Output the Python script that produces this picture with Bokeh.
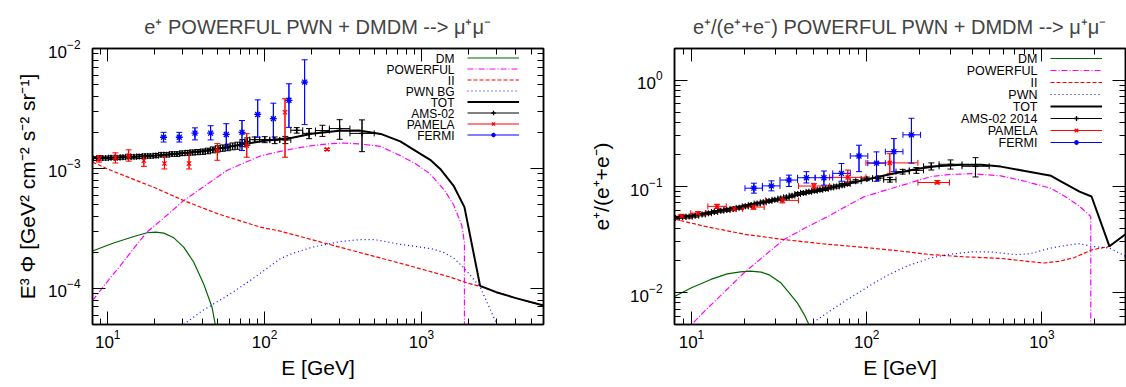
from bokeh.plotting import figure
from bokeh.layouts import row
from bokeh.models import (LogAxis, LogTicker, CustomJSTickFormatter, Legend, LegendItem,
                          Label, Whisker, TeeHead, ColumnDataSource)
from bokeh.core.properties import value
from bokeh.embed import file_html
from bokeh.resources import INLINE

FONT = "Liberation Sans"

# ---------------- left panel : e+ flux (E^3 Phi) ----------------
E_dm_l = [8, 10.9, 14.7, 17.8, 20.2, 22.8, 26.4, 30.5, 35.3, 40.9, 46.2, 48.5, 50]
dm_l = [2.05e-4, 2.39e-4, 2.71e-4, 2.91e-4, 2.95e-4, 2.89e-4, 2.64e-4, 2.21e-4, 1.66e-4,
        1.09e-4, 7.0e-5, 5.0e-5, 4.0e-5]

E_pw_l = [8, 10, 12, 15, 17.8, 20, 25, 30.5, 40, 57.5, 75, 94, 120, 153, 200, 250, 319, 400,
          547, 733, 912, 1137, 1400, 1600, 1810, 1880, 1882]
pw_l = [7.9e-5, 1.15e-4, 1.54e-4, 2.24e-4, 2.95e-4, 3.35e-4, 4.3e-4, 5.4e-4, 6.9e-4, 9.6e-4,
        1.12e-3, 1.27e-3, 1.37e-3, 1.46e-3, 1.55e-3, 1.6e-3, 1.63e-3, 1.6e-3, 1.53e-3, 1.28e-3,
        1.1e-3, 9.0e-4, 6.6e-4, 5.0e-4, 3.35e-4, 2.4e-4, 1e-6]

E_ii_l = [8, 10, 15, 20, 30.5, 50, 94, 126, 200, 300, 500, 733, 1000, 1500, 2000, 2366, 3000,
          4000, 6000]
ii_l = [1.13e-3, 9.9e-4, 8.0e-4, 6.9e-4, 5.4e-4, 4.2e-4, 3.24e-4, 3.0e-4, 2.55e-4, 2.21e-4,
        1.85e-4, 1.62e-4, 1.45e-4, 1.25e-4, 1.1e-4, 1.04e-4, 9.3e-5, 8.3e-5, 7.2e-5]

E_pwn_l = [30.5, 40, 60.5, 80, 100, 126, 150, 200, 300, 400, 500, 600, 733, 982, 1200, 1380,
           1600, 1850, 2366, 3030, 3200]
pwn_l = [5.0e-5, 6.5e-5, 9.0e-5, 1.15e-4, 1.42e-4, 1.77e-4, 1.95e-4, 2.2e-4, 2.45e-4, 2.55e-4,
         2.55e-4, 2.45e-4, 2.33e-4, 2.21e-4, 2.12e-4, 2.0e-4, 1.8e-4, 1.5e-4, 1.03e-4, 5.0e-5,
         4.0e-5]

E_tot_l = [8, 10, 15, 20, 30, 40, 50, 70, 100, 150, 200, 300, 400, 550, 733, 912, 1137, 1318,
           1600, 1880, 2366, 3000, 4000, 6000]
tot_l = [1.22e-3, 1.23e-3, 1.25e-3, 1.28e-3, 1.34e-3, 1.4e-3, 1.46e-3, 1.58e-3, 1.7e-3, 1.8e-3,
         1.95e-3, 2.06e-3, 2.07e-3, 1.94e-3, 1.68e-3, 1.41e-3, 1.18e-3, 9.9e-4, 7.2e-4, 4.76e-4,
         1.05e-4, 9.3e-5, 8.3e-5, 7.2e-5]

# AMS-02 bins (shared by both panels)
ams_E = [8.09, 8.9, 9.7, 10.5, 11.5, 12.5, 13.5, 14.7, 15.9, 17.3, 18.7, 20.3, 21.9, 23.7, 25.7,
         27.7, 29.9, 32.3, 34.8, 37.5, 40.4, 43.5, 46.8, 50.3, 54.1, 58.2, 62.5, 67.2, 72.3, 77.6,
         86.5, 100.2, 116, 135.6, 160.4, 192.2, 233.8, 301, 418]
ams_E_lo = [7.7, 8.5, 9.3, 10.1, 11.0, 12.0, 13.0, 14.1, 15.3, 16.6, 18.0, 19.5, 21.1, 22.8, 24.7,
            26.7, 28.8, 31.1, 33.5, 36.1, 38.9, 41.9, 45.1, 48.5, 52.2, 56.1, 60.3, 64.8, 69.7,
            74.9, 80.5, 93.0, 108, 125, 147, 175, 211, 259, 350]
ams_E_hi = [8.5, 9.3, 10.1, 11.0, 12.0, 13.0, 14.1, 15.3, 16.6, 18.0, 19.5, 21.1, 22.8, 24.7,
            26.7, 28.8, 31.1, 33.5, 36.1, 38.9, 41.9, 45.1, 48.5, 52.2, 56.1, 60.3, 64.8, 69.7,
            74.9, 80.5, 93.0, 108, 125, 147, 175, 211, 259, 350, 500]
ams_flux = [1.21e-3, 1.22e-3, 1.22e-3, 1.23e-3, 1.23e-3, 1.24e-3, 1.25e-3, 1.25e-3, 1.26e-3,
            1.27e-3, 1.27e-3, 1.28e-3, 1.3e-3, 1.3e-3, 1.32e-3, 1.32e-3, 1.34e-3, 1.35e-3,
            1.36e-3, 1.37e-3, 1.38e-3, 1.4e-3, 1.43e-3, 1.46e-3, 1.48e-3, 1.5e-3, 1.53e-3,
            1.55e-3, 1.63e-3, 1.68e-3, 1.74e-3, 1.74e-3, 1.72e-3, 1.73e-3, 2.08e-3, 1.96e-3,
            2.07e-3, 2.15e-3, 1.96e-3]
ams_flux_err = [4.5e-5, 4.5e-5, 4.5e-5, 4.5e-5, 4.5e-5, 4.6e-5, 4.6e-5, 4.7e-5, 4.8e-5, 4.9e-5,
                5.0e-5, 5.1e-5, 5.3e-5, 5.4e-5, 5.6e-5, 5.8e-5, 6.0e-5, 6.2e-5, 6.5e-5, 6.8e-5,
                7.0e-5, 7.5e-5, 8.0e-5, 8.5e-5, 9.0e-5, 9.5e-5, 1.0e-4, 1.05e-4, 1.1e-4, 1.2e-4,
                9.0e-5, 1.0e-4, 1.1e-4, 1.2e-4, 1.1e-4, 1.9e-4, 2.2e-4, 4.0e-4, 5.8e-4]

pam_E_l = [8.8, 11.2, 13.6, 17.0, 23.0, 33.0, 50.0, 77.0, 135.0, 250.0]
pam_flux = [1.2e-3, 1.23e-3, 1.28e-3, 1.16e-3, 1.1e-3, 1.1e-3, 1.4e-3, 1.55e-3, 2.94e-3, 1.44e-3]
pam_flux_lo = [1.13e-3, 1.11e-3, 1.15e-3, 1.04e-3, 9.9e-4, 9.9e-4, 1.17e-3, 1.24e-3, 1.24e-3,
               1.41e-3]
pam_flux_hi = [1.28e-3, 1.35e-3, 1.43e-3, 1.28e-3, 1.26e-3, 1.33e-3, 1.61e-3, 1.95e-3, 3.81e-3,
               1.47e-3]

fermi_E = [22.7, 28.6, 36.0, 45.3, 57.0, 71.8, 90.4, 113.8, 143.0, 180.0]
fermi_E_lo = [20.2, 25.4, 32.0, 40.3, 50.8, 64.0, 80.6, 101.5, 127.8, 161.0]
fermi_E_hi = [25.4, 32.0, 40.3, 50.8, 64.0, 80.6, 101.5, 127.8, 161.0, 203.0]
fermi_flux = [1.82e-3, 1.82e-3, 1.97e-3, 1.97e-3, 1.92e-3, 2.0e-3, 2.82e-3, 2.6e-3, 3.7e-3,
              5.25e-3]
fermi_flux_lo = [1.66e-3, 1.66e-3, 1.73e-3, 1.73e-3, 1.46e-3, 1.41e-3, 1.82e-3, 1.73e-3, 2.2e-3,
                 2.32e-3]
fermi_flux_hi = [2.0e-3, 2.0e-3, 2.18e-3, 2.27e-3, 2.36e-3, 2.51e-3, 3.73e-3, 3.5e-3, 5.08e-3,
                 8.05e-3]

# ---------------- right panel : positron fraction ----------------
E_dm_r = [8, 10, 12.9, 16, 19, 21.7, 25, 28, 32.3, 36, 40.2, 44, 46.8, 48]
dm_r = [9.2e-3, 1.11e-2, 1.33e-2, 1.5e-2, 1.57e-2, 1.59e-2, 1.56e-2, 1.46e-2, 1.24e-2, 1.0e-2,
        8.0e-3, 6.2e-3, 5.0e-3, 4.5e-3]

E_pw_r = [9.5, 10, 12, 15, 19.9, 25, 33.7, 45, 60, 80, 96.6, 130, 170, 232, 300, 400, 583, 800,
          1128, 1400, 1640, 1880, 1900, 1902]
pw_r = [4.3e-3, 5.0e-3, 6.8e-3, 9.7e-3, 1.53e-2, 2.1e-2, 3.16e-2, 4.1e-2, 5.2e-2, 6.8e-2, 8.0e-2,
        9.3e-2, 1.06e-1, 1.24e-1, 1.3e-1, 1.32e-1, 1.26e-1, 1.12e-1, 9.6e-2, 7.8e-2, 6.5e-2,
        5.3e-2, 5.2e-2, 1e-4]

E_ii_r = [8, 12, 20, 33.7, 60, 100, 150, 232, 350, 583, 800, 1030, 1250, 1524, 1920, 2430, 3000]
ii_r = [4.93e-2, 4.2e-2, 3.55e-2, 3.16e-2, 2.85e-2, 2.65e-2, 2.48e-2, 2.28e-2, 2.18e-2, 2.1e-2,
        1.98e-2, 1.9e-2, 1.97e-2, 2.13e-2, 2.52e-2, 2.73e-2, 3.55e-2]

E_pwn_r = [47.5, 60, 75, 90, 110, 131, 170, 232, 300, 400, 500, 583, 700, 850, 1128, 1400, 1640,
           1920, 2430, 3000]
pwn_r = [5.0e-3, 6.5e-3, 8.3e-3, 1.0e-2, 1.23e-2, 1.45e-2, 1.78e-2, 2.12e-2, 2.3e-2, 2.42e-2,
         2.42e-2, 2.36e-2, 2.28e-2, 2.32e-2, 2.63e-2, 2.8e-2, 2.89e-2, 2.73e-2, 2.63e-2, 2.2e-2]

E_tot_r = [8, 10, 15, 23, 34, 46, 57, 74, 97, 126, 150, 200, 250, 350, 450, 583, 800, 1128, 1290,
           1640, 1920, 2430, 3000]
tot_r = [5.1e-2, 5.3e-2, 6.0e-2, 6.9e-2, 7.7e-2, 8.8e-2, 9.4e-2, 1.04e-1, 1.15e-1, 1.27e-1,
         1.35e-1, 1.48e-1, 1.55e-1, 1.6e-1, 1.6e-1, 1.54e-1, 1.4e-1, 1.26e-1, 1.11e-1, 8.95e-2,
         8.05e-2, 2.73e-2, 3.55e-2]

ams_frac = [0.0505, 0.0515, 0.052, 0.053, 0.0545, 0.056, 0.0575, 0.059, 0.06, 0.0615, 0.063,
            0.065, 0.067, 0.069, 0.071, 0.073, 0.075, 0.077, 0.079, 0.082, 0.085, 0.087, 0.089,
            0.091, 0.093, 0.095, 0.098, 0.1, 0.103, 0.106, 0.112, 0.118, 0.12, 0.116, 0.138,
            0.142, 0.155, 0.162, 0.155]
ams_frac_err = [0.0015, 0.0015, 0.0015, 0.0016, 0.0016, 0.0017, 0.0017, 0.0018, 0.0018, 0.0019,
                0.0019, 0.002, 0.002, 0.0021, 0.0022, 0.0022, 0.0023, 0.0024, 0.0025, 0.0026,
                0.0027, 0.0028, 0.0029, 0.003, 0.0031, 0.0032, 0.0034, 0.0035, 0.0037, 0.0039,
                0.004, 0.0045, 0.005, 0.006, 0.007, 0.009, 0.012, 0.016, 0.032]

pam_E_r = [8.8, 10.9, 14.0, 17.5, 22.6, 33.0, 50.0, 78.0, 135.5, 253.0]
pam_E_r_lo = [7.9, 9.9, 12.4, 15.5, 19.8, 26.5, 40.8, 61.4, 99.0, 196.0]
pam_E_r_hi = [9.9, 12.1, 15.8, 19.6, 26.0, 40.8, 61.4, 99.0, 196.0, 297.0]
pam_frac = [0.0525, 0.056, 0.065, 0.0615, 0.064, 0.074, 0.101, 0.122, 0.167, 0.109]
pam_frac_lo = [0.0505, 0.054, 0.062, 0.059, 0.061, 0.07, 0.095, 0.107, 0.133, 0.106]
pam_frac_hi = [0.0545, 0.058, 0.068, 0.064, 0.067, 0.078, 0.107, 0.143, 0.204, 0.114]

fermi_frac = [0.0964, 0.1013, 0.115, 0.121, 0.121, 0.133, 0.194, 0.166, 0.213, 0.307]
fermi_frac_lo = [0.0866, 0.091, 0.1, 0.108, 0.103, 0.112, 0.138, 0.112, 0.138, 0.166]
fermi_frac_hi = [0.1074, 0.113, 0.128, 0.138, 0.14, 0.165, 0.245, 0.212, 0.283, 0.44]

names_l = ["DM", "POWERFUL", "II", "PWN BG", "TOT", "AMS-02", "PAMELA", "FERMI"]
names_r = ["DM", "POWERFUL", "II", "PWN", "TOT", "AMS-02 2014", "PAMELA", "FERMI"]

GREEN, MAGENTA, RED, BLUE, BLACK = "#006400", "#ff00ff", "#ff0000", "#0000ff", "#000000"


def style_axes(p, ylab_standoff):
    ticker_x = LogTicker(mantissas=[1], num_minor_ticks=10)
    ticker_y = LogTicker(mantissas=[1], num_minor_ticks=10)
    blank = CustomJSTickFormatter(code="return ''")
    p.add_layout(LogAxis(ticker=ticker_x, formatter=blank), "above")
    p.add_layout(LogAxis(ticker=ticker_y, formatter=blank), "right")
    for ax in p.xaxis + p.yaxis:
        ax.major_tick_in = 13
        ax.major_tick_out = 0
        ax.minor_tick_in = 6
        ax.minor_tick_out = 0
        ax.axis_line_color = BLACK
        ax.axis_line_width = 1.5
        ax.major_tick_line_color = BLACK
        ax.minor_tick_line_color = BLACK
        ax.major_label_text_font = FONT
        ax.major_label_text_font_size = "17px"
        ax.major_label_text_color = BLACK
        ax.axis_label_text_font = FONT
        ax.axis_label_text_font_style = "normal"
        ax.axis_label_text_font_size = "21px"
        ax.axis_label_text_color = BLACK
    p.xaxis[0].ticker = ticker_x
    p.yaxis[0].ticker = ticker_y
    for ax in p.above + p.right:
        if isinstance(ax, LogAxis):
            ax.major_label_standoff = 0
            ax.major_label_text_font_size = "0px"
    p.xaxis[0].major_label_standoff = 13
    p.xaxis[0].axis_label_standoff = 6
    p.yaxis[0].major_label_standoff = 12
    p.yaxis[0].axis_label_standoff = ylab_standoff


def make_panel(title, xr, yr, ylabel, border_left, border_right, title_offset, ylab_standoff):
    p = figure(width=border_left + 451 + border_right, height=387,
               x_axis_type="log", y_axis_type="log",
               x_range=xr, y_range=yr, output_backend="svg", toolbar_location=None,
               min_border_left=border_left, min_border_right=border_right,
               min_border_top=48, min_border_bottom=63,
               x_axis_label="E [GeV]", y_axis_label=ylabel)
    p.title.text = title
    p.title.align = "center"
    p.title.text_font = FONT
    p.title.text_font_size = "20px"
    p.title.text_font_style = "normal"
    p.title.standoff = 22
    p.title.offset = title_offset
    p.grid.visible = False
    p.outline_line_color = BLACK
    p.outline_line_width = 1.5
    p.background_fill_color = "white"
    p.border_fill_color = "white"
    style_axes(p, ylab_standoff)
    return p


def data_series(p, E, y, lo, hi, color, marker, size, Elo=None, Ehi=None):
    src = ColumnDataSource(dict(E=E, y=y, lo=lo, hi=hi))
    w = Whisker(source=src, base="E", lower="lo", upper="hi", dimension="height",
                line_color=color, line_width=1,
                upper_head=TeeHead(size=6, line_color=color, line_width=1),
                lower_head=TeeHead(size=6, line_color=color, line_width=1))
    p.add_layout(w)
    seg = p.segment(x0="E", y0="lo", x1="E", y1="hi", source=src, line_color=color, line_width=1)
    if Elo is not None:
        src2 = ColumnDataSource(dict(y=y, xlo=Elo, xhi=Ehi))
        w2 = Whisker(source=src2, base="y", lower="xlo", upper="xhi", dimension="width",
                     line_color=color, line_width=1,
                     upper_head=TeeHead(size=6, line_color=color, line_width=1),
                     lower_head=TeeHead(size=6, line_color=color, line_width=1))
        p.add_layout(w2)
    sc = p.scatter(x="E", y="y", source=src, marker=marker, size=size, line_color=color,
                   fill_color=color, line_width=1.3)
    return [seg, sc]


def add_legend(p, names, renderers, loc, gh, label_x, label_y0, fs):
    items = [LegendItem(label=value(""), renderers=r) for r in renderers]
    leg = Legend(items=items, location=loc, glyph_width=52, glyph_height=gh, label_height=gh,
                 label_width=0, label_standoff=0, spacing=0, padding=0, margin=0,
                 border_line_color=None, background_fill_alpha=0, label_text_font_size="1px")
    p.add_layout(leg)
    for i, name in enumerate(names):
        p.add_layout(Label(x=label_x, y=label_y0 - gh * i, x_units="screen", y_units="screen",
                           text=name, text_align="right", text_baseline="middle",
                           text_font=FONT, text_font_size=fs, text_color=BLACK))


# ---------- left ----------
p1 = make_panel("e\u207a POWERFUL PWN + DMDM --> \u03bc\u207a\u03bc\u207b", (8, 6000), (5e-5, 1e-2),
                "E\u00b3 \u03a6 [GeV\u00b2 cm\u207b\u00b2 s\u207b\u00b2 sr\u207b\u00b9]", 92, 20, -67, 6)
r_dm = p1.line(E_dm_l, dm_l, line_color=GREEN, line_width=1.2)
r_pw = p1.line(E_pw_l, pw_l, line_color=MAGENTA, line_width=1.2, line_dash="6 2 1 2")
r_ii = p1.line(E_ii_l, ii_l, line_color=RED, line_width=1.2, line_dash="4 2")
r_pwn = p1.line(E_pwn_l, pwn_l, line_color=BLUE, line_width=1.2, line_dash="1 3")
r_tot = p1.line(E_tot_l, tot_l, line_color=BLACK, line_width=2)
r_ams = data_series(p1, ams_E, ams_flux, [a - b for a, b in zip(ams_flux, ams_flux_err)],
                    [a + b for a, b in zip(ams_flux, ams_flux_err)], BLACK, "cross", 6,
                    ams_E_lo, ams_E_hi)
r_pam = data_series(p1, pam_E_l, pam_flux, pam_flux_lo, pam_flux_hi, RED, "x", 6)
r_fer = data_series(p1, fermi_E, fermi_flux, fermi_flux_lo, fermi_flux_hi, BLUE, "asterisk", 7)
add_legend(p1, names_l, [[r_dm], [r_pw], [r_ii], [r_pwn], [r_tot], r_ams, r_pam, r_fer],
           (375, 184), 11, 362, 266, "12px")

# ---------- right ----------
p2 = make_panel("e\u207a/(e\u207a+e\u207b) POWERFUL PWN + DMDM --> \u03bc\u207a\u03bc\u207b", (8, 3000),
                (5e-3, 2), "e\u207a/(e\u207a+e\u207b)", 111, 1, -55, 14)
q_dm = p2.line(E_dm_r, dm_r, line_color=GREEN, line_width=1.2)
q_pw = p2.line(E_pw_r, pw_r, line_color=MAGENTA, line_width=1.2, line_dash="6 2 1 2")
q_ii = p2.line(E_ii_r, ii_r, line_color=RED, line_width=1.2, line_dash="4 2")
q_pwn = p2.line(E_pwn_r, pwn_r, line_color=BLUE, line_width=1.2, line_dash="1 3")
q_tot = p2.line(E_tot_r, tot_r, line_color=BLACK, line_width=2)
q_ams = data_series(p2, ams_E, ams_frac, [a - b for a, b in zip(ams_frac, ams_frac_err)],
                    [a + b for a, b in zip(ams_frac, ams_frac_err)], BLACK, "cross", 6,
                    ams_E_lo, ams_E_hi)
q_pam = data_series(p2, pam_E_r, pam_frac, pam_frac_lo, pam_frac_hi, RED, "x", 6,
                    pam_E_r_lo, pam_E_r_hi)
q_fer = data_series(p2, fermi_E, fermi_frac, fermi_frac_lo, fermi_frac_hi, BLUE, "asterisk", 7,
                    fermi_E_lo, fermi_E_hi)
add_legend(p2, names_r, [[q_dm], [q_pw], [q_ii], [q_pwn], [q_tot], q_ams, q_pam, q_fer],
           (376, 176), 12, 363, 266, "12.5px")

layout = row(p1, p2)
open("out.html", "w").write(file_html(layout, INLINE))
